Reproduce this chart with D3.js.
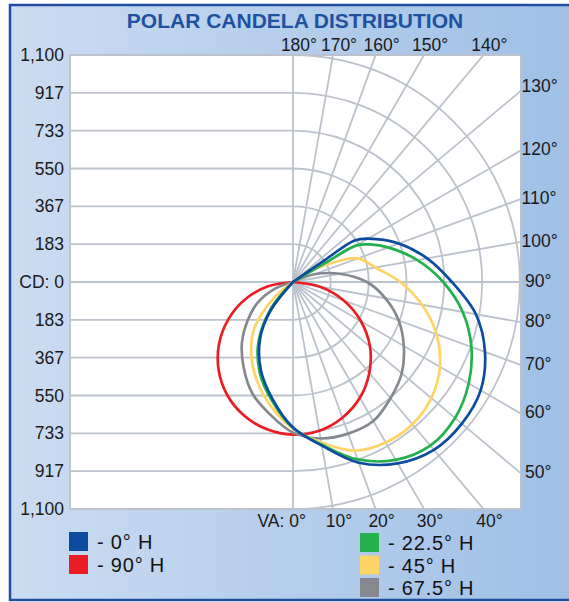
<!DOCTYPE html>
<html><head><meta charset="utf-8">
<script src="https://cdn.jsdelivr.net/npm/d3@7"></script>
<style>
html,body{margin:0;padding:0;background:#fff;}
svg{display:block;font-family:"Liberation Sans",Arial,Helvetica,sans-serif;}
</style>
</head><body>
<svg id="chart" width="569" height="602"></svg>
<script>
// ---------- DATA ----------
const titleText = "POLAR CANDELA DISTRIBUTION";
const cdTicks = [0, 183.33, 366.67, 550, 733.33, 916.67, 1100];
const cdTickLabels = ["CD: 0", "183", "367", "550", "733", "917", "1,100"];
const topAngles = [180, 170, 160, 150, 140];
const rightAngles = [130, 120, 110, 100, 90, 80, 70, 60, 50];
const bottomAngles = [0, 10, 20, 30, 40];
const gridAngles = [0,10,20,30,40,50,60,70,80,90,100,110,120,130,140,150,160,170,180];

const seriesNames = ["0° H", "22.5° H", "45° H", "67.5° H", "90° H"];
const seriesColors = ["#0c4ca0", "#22b14c", "#ffd466", "#85898f", "#ec1c24"];

// vertical angle (deg from nadir, + toward right) and candela, per horizontal plane
const va0H   = [-41,-38,-30,-20,-10,0,10,20,30,40,50,60,70,80,90,100,110,120,124,124.5,125];
const cd0H   = [0,180,320,455,575,705,805,932,1015,1062,1068,1050,990,900,770,660,545,420,360,180,0];

const va22H  = [-43,-40,-30,-20,-10,0,10,20,30,40,50,60,70,80,90,100,110,116,120,120.5,121];
const cd22H  = [0,160,335,470,585,708,800,915,995,1035,1025,983,920,835,728,612,490,415,355,180,0];

const va45H  = [-55,-50,-40,-30,-20,-10,0,10,20,30,40,50,60,70,80,90,100,110,115,120,124,127];
const cd45H  = [0,120,290,405,510,612,710,790,870,898,900,875,822,740,635,520,405,335,235,135,60,0];

const va67H  = [-78,-70,-60,-50,-40,-30,-20,-10,0,10,20,30,40,50,60,70,80,90,100,110,116,118];
const cd67H  = [0,90,195,285,385,478,575,650,730,770,782,778,735,688,620,545,455,358,230,110,30,0];

const va90H  = [-90,-80,-70,-60,-50,-40,-30,-20,-10,0,10,20,30,40,50,60,70,80,90];
const cd90H  = [0,126,248,362,468,560,635,690,725,740,732,700,648,575,487,380,262,133,0];

const seriesAngles = [va0H, va22H, va45H, va67H, va90H];
const seriesValues = [cd0H, cd22H, cd45H, cd67H, cd90H];

// ---------- LAYOUT ----------
const W = 569, H = 602;
const L = 70, R = 521, T = 55, B = 509;
const ox = 293, oy = 282;
const gridColor = "#bcc2cc";

const svg = d3.select("#chart");
const defs = svg.append("defs");
const grad = defs.append("linearGradient").attr("id","bg").attr("x1","0").attr("x2","1").attr("y1","0").attr("y2","0");
grad.append("stop").attr("offset","0").attr("stop-color","#cbdcf1");
grad.append("stop").attr("offset","1").attr("stop-color","#9dbee5");
defs.append("clipPath").attr("id","plotclip").append("rect")
  .attr("x", L).attr("y", T).attr("width", R - L).attr("height", B - T);

// background panel
svg.append("rect").attr("x",0).attr("y",0).attr("width",W).attr("height",H).attr("fill","#fff");
svg.append("rect").attr("x",10).attr("y",5).attr("width",W+20).attr("height",595)
  .attr("fill","url(#bg)").attr("stroke","#1d4f9e").attr("stroke-width",2.5);

// title
svg.append("text").attr("x", 295).attr("y", 28).attr("text-anchor","middle")
  .attr("font-size", 21).attr("font-weight","bold").attr("fill","#1f51a0").text(titleText);

// plot area
svg.append("rect").attr("x",L).attr("y",T).attr("width",R-L).attr("height",B-T)
  .attr("fill","#fff").attr("stroke", gridColor).attr("stroke-width",2);

const rScale = d3.scaleLinear().domain([0, 1100]).range([0, oy - T]);
const yScale = d3.scaleLinear().domain([-1100, 1100]).range([B, T]);

const grid = svg.append("g").attr("clip-path","url(#plotclip)")
  .attr("fill","none").attr("stroke", gridColor).attr("stroke-width",1.8);

// left horizontal grid lines (both halves)
cdTicks.forEach(v => {
  [v, -v].forEach(s => {
    grid.append("line").attr("x1", L).attr("x2", ox)
      .attr("y1", yScale(s)).attr("y2", yScale(s));
  });
});
// right semicircle arcs
cdTicks.filter(v => v > 0).forEach(v => {
  const r = rScale(v);
  grid.append("path").attr("transform", `translate(${ox},${oy})`)
    .attr("d", `M0,${-r} A${r},${r} 0 0 1 0,${r}`);
});
// radial lines
gridAngles.forEach(a => {
  const t = a * Math.PI / 180;
  grid.append("line").attr("x1", ox).attr("y1", oy)
    .attr("x2", ox + 1000 * Math.sin(t)).attr("y2", oy + 1000 * Math.cos(t));
});

// left axis labels
const yAxisTicks = [];
const yAxisLabels = [];
cdTicks.forEach((v, i) => { yAxisTicks.push(v); yAxisLabels.push(cdTickLabels[i]); });
cdTicks.slice(1).forEach((v, i) => { yAxisTicks.push(-v); yAxisLabels.push(cdTickLabels[i + 1]); });
const yAxis = d3.axisLeft(yScale).tickValues(yAxisTicks)
  .tickFormat(d => yAxisLabels[yAxisTicks.indexOf(d)]).tickSize(0).tickPadding(6);
const ga = svg.append("g").attr("transform", `translate(${L},0)`).call(yAxis);
ga.select(".domain").remove();
ga.selectAll("text").attr("font-size", 17.5).attr("fill", "#1a1a1a")
  .attr("font-family", '"Liberation Sans",Arial,sans-serif');

const labelG = svg.append("g").attr("font-size", 17.5).attr("fill", "#1a1a1a");
// top labels
topAngles.forEach(a => {
  const dx = (oy - T) * Math.tan((180 - a) * Math.PI / 180);
  labelG.append("text").attr("x", ox + dx + 6).attr("y", 51)
    .attr("text-anchor", "middle").text(a + "°");
});
// right labels
rightAngles.forEach(a => {
  const dy = (R - ox) * Math.tan((a - 90) * Math.PI / 180);
  const yy = Math.min(oy - dy - 1.5, 86 + (130 - a) * 100);
  labelG.append("text").attr("x", a >= 100 ? R + 0.5 : R + 4).attr("y", yy)
    .attr("dy", "0.36em").text(a + "°");
});
// bottom labels
bottomAngles.forEach(a => {
  const dx = (B - oy) * Math.tan(a * Math.PI / 180);
  if (a === 0) {
    labelG.append("text").attr("x", ox + 13).attr("y", 527)
      .attr("text-anchor", "end").text("VA: " + a + "°");
  } else {
    labelG.append("text").attr("x", ox + dx + 6).attr("y", 527)
      .attr("text-anchor", "middle").text(a + "°");
  }
});

// curves
const radial = d3.lineRadial()
  .angle(d => Math.PI - d[0] * Math.PI / 180)
  .radius(d => rScale(d[1]))
  .curve(d3.curveCatmullRom.alpha(0.5));
const curveG = svg.append("g").attr("transform", `translate(${ox},${oy})`);
const drawOrder = [4, 3, 2, 1, 0];
drawOrder.forEach(i => {
  const pts = seriesAngles[i].map((a, j) => [a, seriesValues[i][j]]);
  curveG.append("path").attr("d", radial(pts) + "Z")
    .attr("fill", "none").attr("stroke", seriesColors[i]).attr("stroke-width", 2.7)
    .attr("stroke-linejoin", "round");
});

// legend
const legendPos = [[69, 532], [360, 533], [360, 555.5], [360, 578], [69, 555]];
const lg = svg.append("g");
seriesNames.forEach((n, i) => {
  const [x, y] = legendPos[i];
  lg.append("rect").attr("x", x).attr("y", y).attr("width", 19).attr("height", 19)
    .attr("fill", seriesColors[i]);
  lg.append("text").attr("x", x + 28).attr("y", y + 17).attr("font-size", 20)
    .attr("letter-spacing", "0.8px")
    .attr("fill", "#111").text("- " + n);
});
</script>
</body></html>
